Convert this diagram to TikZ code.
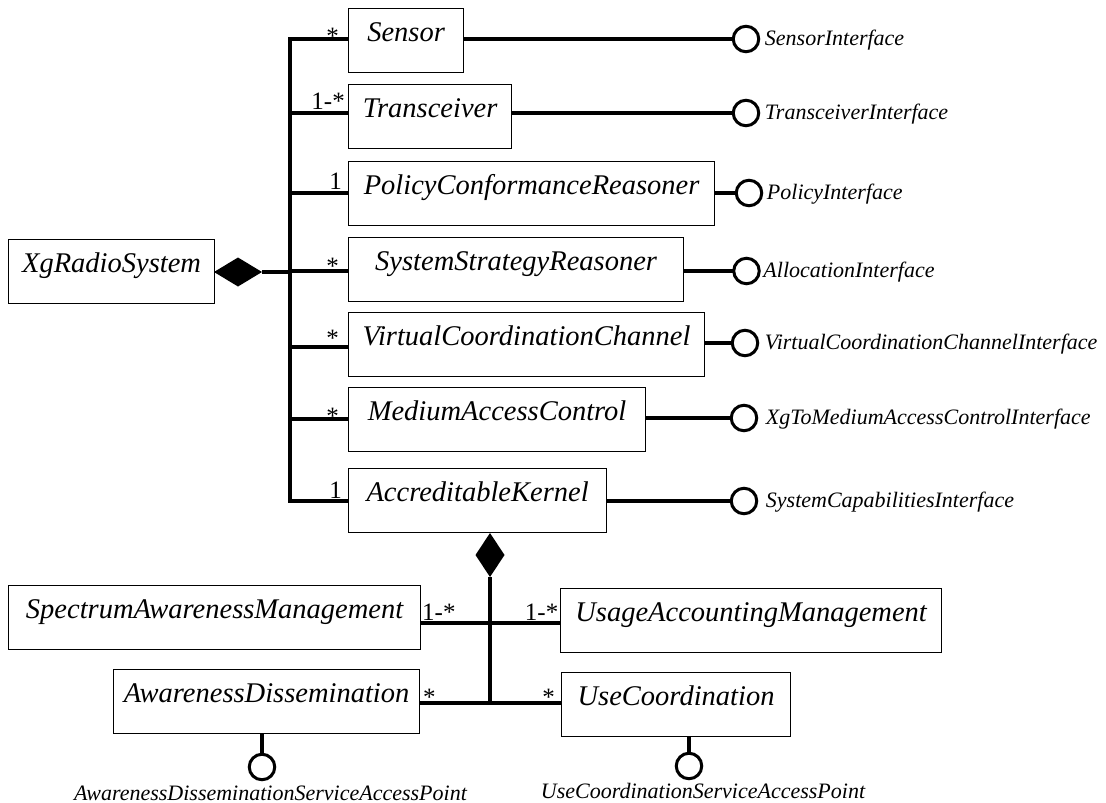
\documentclass[tikz,border=0pt]{standalone}
\usepackage{fontspec}
\setmainfont{Liberation Serif}
\usetikzlibrary{shapes.geometric}
\begin{document}
\begin{tikzpicture}[x=1pt,y=-1pt,
  cls/.style={draw, line width=1.2pt, rectangle, inner sep=0pt, minimum height=64pt,
              text height=33pt, text depth=31pt,
              font=\fontsize{28.5}{30}\selectfont\itshape, anchor=north west},
  assoc/.style={line width=3.3pt},
  iface/.style={circle, draw, line width=3pt, minimum size=25.5pt, inner sep=0pt, outer sep=0pt},
  ilabel/.style={font=\fontsize{22}{22}\selectfont\itshape, inner sep=0pt, anchor=base west},
  mult/.style={font=\fontsize{25}{25}\selectfont, inner sep=0pt},
  comp/.style={diamond, fill=black, inner sep=0pt, outer sep=0pt},
]
\useasboundingbox (0,0) rectangle (1106,803);

% classes
\node[cls, minimum width=115pt] (Sensor) at (348,8) {Sensor};
\node[cls, minimum width=163pt] (Trans) at (348,84) {Transceiver};
\node[cls, minimum width=366pt] (Policy) at (348,161) {PolicyConformanceReasoner};
\node[cls, minimum width=335pt] (Strat) at (348,237) {SystemStrategyReasoner};
\node[cls, minimum width=356pt] (Virt) at (348,312) {VirtualCoordinationChannel};
\node[cls, minimum width=297pt] (MAC) at (348,387) {MediumAccessControl};
\node[cls, minimum width=258pt] (Accred) at (348,468) {AccreditableKernel};
\node[cls, minimum width=206pt] (Xg) at (8,239) {XgRadioSystem};
\node[cls, minimum width=412pt] (SAM) at (8,585) {SpectrumAwarenessManagement};
\node[cls, minimum width=306pt] (AD) at (113,669) {AwarenessDissemination};
\node[cls, minimum width=381pt] (UAM) at (560,588) {UsageAccountingManagement};
\node[cls, minimum width=229pt] (UC) at (561,672) {UseCoordination};

% composition from XgRadioSystem
\node[comp, minimum width=48pt, minimum height=29pt, anchor=west] (dA) at (214,272) {};
\coordinate (bT) at (290,39);
\coordinate (bB) at (290,501);
\coordinate (b2) at (290,113);
\coordinate (b3) at (290,193);
\coordinate (b4) at (290,271);
\coordinate (b5) at (290,347);
\coordinate (b6) at (290,419);
\draw[assoc] (Sensor.west |- bT) -- (bT) -- (bB) -- (Accred.west |- bB);
\draw[assoc] (b2) -- (Trans.west |- b2);
\draw[assoc] (b3) -- (Policy.west |- b3);
\draw[assoc] (b4) -- (Strat.west |- b4);
\draw[assoc] (b5) -- (Virt.west |- b5);
\draw[assoc] (b6) -- (MAC.west |- b6);
\draw[assoc] (dA.east) -- (dA.east -| bT);

% multiplicities (top)
\node[mult, anchor=base east] at (339,44) {*};
\node[mult, anchor=base east] at (345,109) {1-*};
\node[mult, anchor=base east] at (342,189) {1};
\node[mult, anchor=base east] at (339,274) {*};
\node[mult, anchor=base east] at (339,346) {*};
\node[mult, anchor=base east] at (339,424) {*};
\node[mult, anchor=base east] at (342,498) {1};

% interfaces (right)
\node[iface] (iSensor) at (746,39) {};
\node[iface] (iTrans) at (746,113) {};
\node[iface] (iPolicy) at (749,193) {};
\node[iface] (iAlloc) at (746.5,271) {};
\node[iface] (iVirt) at (745,343) {};
\node[iface] (iMAC) at (744,418) {};
\node[iface] (iCap) at (744,501) {};
\draw[assoc] (Sensor.east |- iSensor) -- (iSensor.west);
\draw[assoc] (Trans.east |- iTrans) -- (iTrans.west);
\draw[assoc] (Policy.east |- iPolicy) -- (iPolicy.west);
\draw[assoc] (Strat.east |- iAlloc) -- (iAlloc.west);
\draw[assoc] (Virt.east |- iVirt) -- (iVirt.west);
\draw[assoc] (MAC.east |- iMAC) -- (iMAC.west);
\draw[assoc] (Accred.east |- iCap) -- (iCap.west);
\node[ilabel] at ([xshift=6pt,yshift=-6pt]iSensor.east) {SensorInterface};
\node[ilabel] at ([xshift=6pt,yshift=-6pt]iTrans.east) {TransceiverInterface};
\node[ilabel] at ([xshift=5pt,yshift=-6pt]iPolicy.east) {PolicyInterface};
\node[ilabel] at ([xshift=4pt,yshift=-6pt]iAlloc.east) {AllocationInterface};
\node[ilabel] at ([xshift=7pt,yshift=-6pt]iVirt.east) {VirtualCoordinationChannelInterface};
\node[ilabel] at ([xshift=9pt,yshift=-6pt]iMAC.east) {XgToMediumAccessControlInterface};
\node[ilabel] at ([xshift=9pt,yshift=-6pt]iCap.east) {SystemCapabilitiesInterface};

% composition from AccreditableKernel
\node[comp, minimum width=29pt, minimum height=44pt, anchor=north] (dB) at (490,533) {};
\coordinate (j1) at (490,623);
\coordinate (j2) at (490,703);
\coordinate (jB) at (490,705);
\draw[assoc] (dB.south) -- (jB);
\draw[assoc] (SAM.east |- j1) -- (UAM.west |- j1);
\draw[assoc] (AD.east |- j2) -- (UC.west |- j2);

% multiplicities (bottom)
\node[mult, anchor=base west] at (422,620) {1-*};
\node[mult, anchor=base east] at (558.5,620) {1-*};
\node[mult, anchor=base west] at (423,705) {*};
\node[mult, anchor=base east] at (555,705) {*};

% service access points
\node[iface] (iAD) at (262,767) {};
\node[iface] (iUC) at (689,766) {};
\draw[assoc] (AD.south -| iAD) -- (iAD.north);
\draw[assoc] (UC.south -| iUC) -- (iUC.north);
\node[ilabel, anchor=base] at (270.5,800) {AwarenessDisseminationServiceAccessPoint};
\node[ilabel, anchor=base] at (703,798) {UseCoordinationServiceAccessPoint};
\end{tikzpicture}
\end{document}
